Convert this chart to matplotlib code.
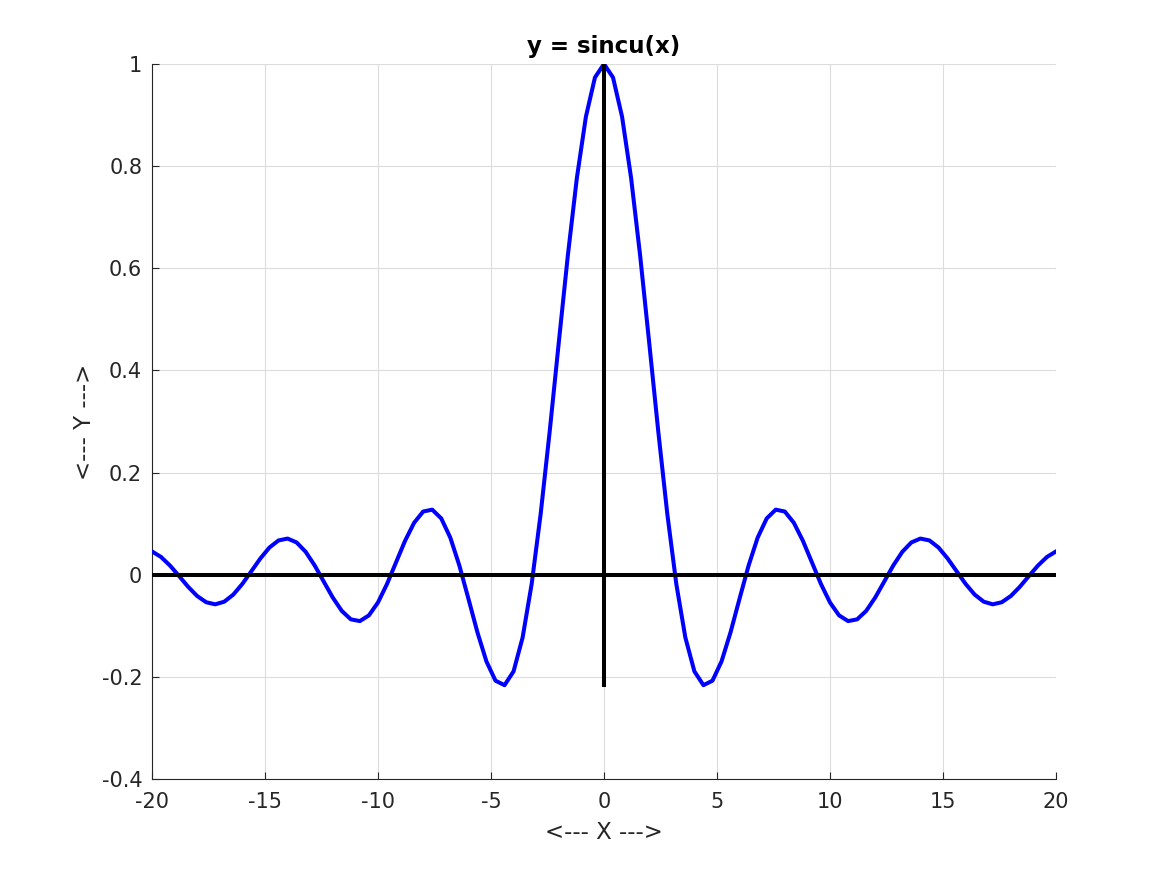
import matplotlib
matplotlib.use("Agg")
import matplotlib.pyplot as plt

# samples, x = -20:0.4:20
x = [-20.0, -19.6, -19.2, -18.8, -18.4, -18.0, -17.6, -17.2, -16.8, -16.4,
     -16.0, -15.6, -15.2, -14.8, -14.4, -14.0, -13.6, -13.2, -12.8, -12.4,
     -12.0, -11.6, -11.2, -10.8, -10.4, -10.0, -9.6, -9.2, -8.8, -8.4,
     -8.0, -7.6, -7.2, -6.8, -6.4, -6.0, -5.6, -5.2, -4.8, -4.4,
     -4.0, -3.6, -3.2, -2.8, -2.4, -2.0, -1.6, -1.2, -0.8, -0.4,
     0.0,
     0.4, 0.8, 1.2, 1.6, 2.0, 2.4, 2.8, 3.2, 3.6, 4.0,
     4.4, 4.8, 5.2, 5.6, 6.0, 6.4, 6.8, 7.2, 7.6, 8.0,
     8.4, 8.8, 9.2, 9.6, 10.0, 10.4, 10.8, 11.2, 11.6, 12.0,
     12.4, 12.8, 13.2, 13.6, 14.0, 14.4, 14.8, 15.2, 15.6, 16.0,
     16.4, 16.8, 17.2, 17.6, 18.0, 18.4, 18.8, 19.2, 19.6, 20.0]
y = [0.0456, 0.0348, 0.0179, -0.0026, -0.0236, -0.0417, -0.0539, -0.0580, -0.0528, -0.0389,
     -0.0180, 0.0069, 0.0320, 0.0533, 0.0671, 0.0708, 0.0632, 0.0449, 0.0181, -0.0134,
     -0.0447, -0.0709, -0.0874, -0.0908, -0.0796, -0.0544, -0.0182, 0.0242, 0.0665, 0.1017,
     0.1237, 0.1274, 0.1102, 0.0727, 0.0182, -0.0466, -0.1127, -0.1699, -0.2075, -0.2163,
     -0.1892, -0.1229, -0.0182, 0.1196, 0.2814, 0.4546, 0.6247, 0.7767, 0.8967, 0.9735,
     1.0,
     0.9735, 0.8967, 0.7767, 0.6247, 0.4546, 0.2814, 0.1196, -0.0182, -0.1229, -0.1892,
     -0.2163, -0.2075, -0.1699, -0.1127, -0.0466, 0.0182, 0.0727, 0.1102, 0.1274, 0.1237,
     0.1017, 0.0665, 0.0242, -0.0182, -0.0544, -0.0796, -0.0908, -0.0874, -0.0709, -0.0447,
     -0.0134, 0.0181, 0.0449, 0.0632, 0.0708, 0.0671, 0.0533, 0.0320, 0.0069, -0.0180,
     -0.0389, -0.0528, -0.0580, -0.0539, -0.0417, -0.0236, -0.0026, 0.0179, 0.0348, 0.0456]

xticks = [-20, -15, -10, -5, 0, 5, 10, 15, 20]
yticks = [-0.4, -0.2, 0, 0.2, 0.4, 0.6, 0.8, 1]
ytick_labels = ["-0.4", "-0.2", "0", "0.2", "0.4", "0.6", "0.8", "1"]

plt.rcParams["font.family"] = ["DejaVu Sans"]
plt.rcParams["axes.unicode_minus"] = False

fig = plt.figure(figsize=(11.67, 8.75), dpi=100)
ax = fig.add_axes([0.1302, 0.1097, 0.7747, 0.8172])

ax.plot(x, y, color="#0000ff", lw=2.9, zorder=3)
# axes through the origin
ax.plot([x[0], x[-1]], [0, 0], color="black", lw=2.9, zorder=4)
ax.plot([0, 0], [min(y), max(y)], color="black", lw=2.9, zorder=4)

ax.set_xlim(-20, 20)
ax.set_ylim(-0.4, 1)
ax.set_xticks(xticks)
ax.set_xticklabels([str(t) for t in xticks])
ax.set_yticks(yticks)
ax.set_yticklabels(ytick_labels)
ax.grid(True, color="#dcdcdc", lw=0.8)
ax.set_axisbelow(True)

for s in ("top", "right"):
    ax.spines[s].set_visible(False)
for s in ("left", "bottom"):
    ax.spines[s].set_color("#262626")
    ax.spines[s].set_linewidth(0.8)
ax.tick_params(direction="in", length=5, width=0.8, colors="#262626",
               labelsize=15, labelcolor="#262626")
ax.tick_params(axis="y", pad=7)
ax.tick_params(axis="x", pad=9)

ax.set_title("y = sincu(x)", fontsize=16.5, fontweight="bold", pad=8)
ax.set_xlabel("<--- X --->", fontsize=16.5, color="#262626", labelpad=7)
ax.set_ylabel("<--- Y --->", fontsize=16.5, color="#262626", labelpad=4)

fig.savefig("out.png", dpi=100)
